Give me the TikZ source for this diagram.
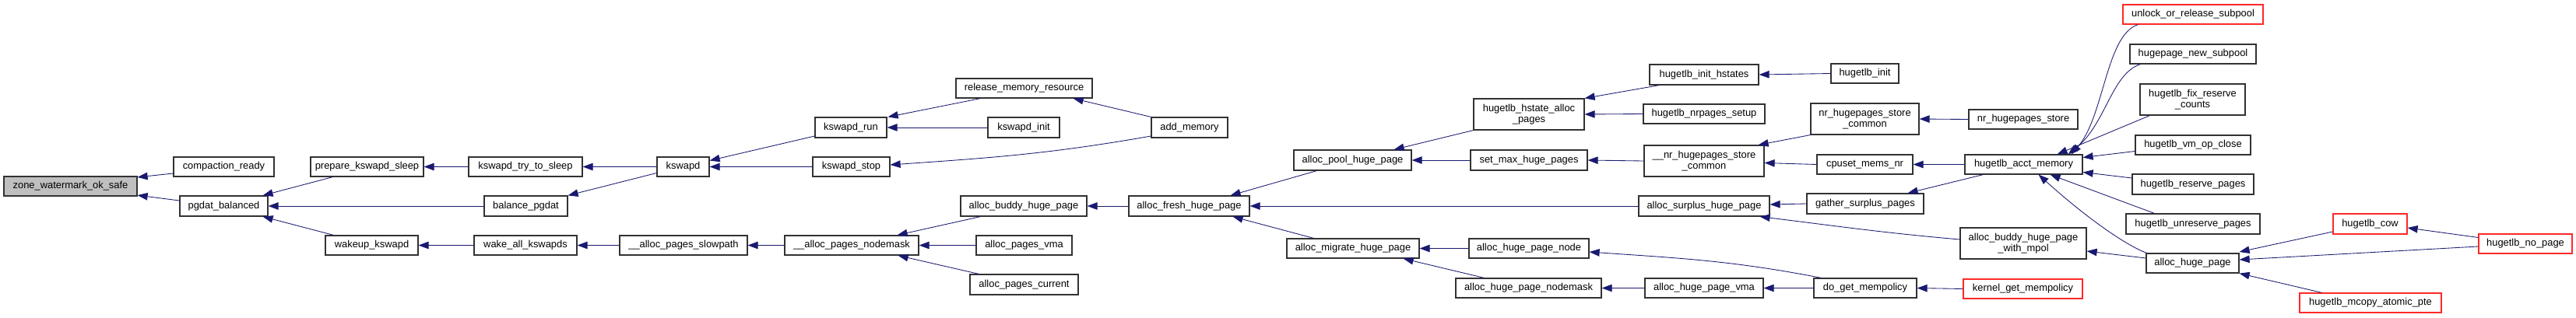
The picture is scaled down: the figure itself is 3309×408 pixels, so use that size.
\documentclass[tikz,border=0pt]{standalone}
\usepackage{fontspec}
\setmainfont{Liberation Sans}
\usetikzlibrary{arrows.meta}
\definecolor{edgec}{RGB}{25,25,112}
\definecolor{rootfill}{RGB}{191,191,191}
\definecolor{boxc}{RGB}{50,50,50}
\definecolor{redc}{RGB}{255,40,40}
\tikzset{
  fn/.style={draw=boxc, line width=1.2pt, fill=white, inner sep=0pt, minimum height=25pt,
    font=\fontsize{12.9}{14.5}\selectfont, align=center},
  rfn/.style={fn, draw=redc},
  rootfn/.style={fn, fill=rootfill},
  edge/.style={draw=edgec, line width=0.85pt, -{Triangle[length=13pt,width=9.5pt]}},
}
\begin{document}
\begin{tikzpicture}[x=1pt,y=-1pt]
\useasboundingbox (0,0) rectangle (3309,408);
% nodes
\node[rootfn, minimum width=171pt] (zone) at (90.5,239.5) {zone\_watermark\_ok\_safe};
\node[fn, minimum width=129pt] (comp) at (287.5,214.5) {compaction\_ready};
\node[fn, minimum width=113pt, minimum height=26pt] (pgdat) at (287.5,265) {pgdat\_balanced};
\node[fn, minimum width=145pt] (prep) at (471.5,214.5) {prepare\_kswapd\_sleep};
\node[fn, minimum width=107pt, minimum height=26pt] (bal) at (675.5,265) {balance\_pgdat};
\node[fn, minimum width=119pt] (wake) at (477.5,315.5) {wakeup\_kswapd};
\node[fn, minimum width=146pt] (trysleep) at (675,214.5) {kswapd\_try\_to\_sleep};
\node[fn, minimum width=132pt] (wakeall) at (675,315.5) {wake\_all\_kswapds};
\node[fn, minimum width=67pt] (kswapd) at (877.5,214.5) {kswapd};
\node[fn, minimum width=164pt] (slow) at (878,315.5) {\_\_alloc\_pages\_slowpath};
\node[fn, minimum width=92pt, minimum height=26pt] (run) at (1093,164) {kswapd\_run};
\node[fn, minimum width=99pt] (stop) at (1093.5,214.5) {kswapd\_stop};
\node[fn, minimum width=172pt] (nodemask) at (1094,315.5) {\_\_alloc\_pages\_nodemask};
\node[fn, minimum width=175pt] (release) at (1315.5,113.5) {release\_memory\_resource};
\node[fn, minimum width=92pt, minimum height=26pt] (init) at (1315,164) {kswapd\_init};
\node[fn, minimum width=162pt, minimum height=26pt] (buddy) at (1315,265) {alloc\_buddy\_huge\_page};
\node[fn, minimum width=123pt] (vma) at (1315.5,315.5) {alloc\_pages\_vma};
\node[fn, minimum width=139pt, minimum height=26pt] (current) at (1315.5,366) {alloc\_pages\_current};
\node[fn, minimum width=98pt, minimum height=26pt] (addmem) at (1528,164) {add\_memory};
\node[fn, minimum width=155pt, minimum height=26pt] (fresh) at (1527.5,265) {alloc\_fresh\_huge\_page};
\node[fn, minimum width=151pt, minimum height=26pt] (pool) at (1737.5,206) {alloc\_pool\_huge\_page};
\node[fn, minimum width=170pt] (migrate) at (1738,319.5) {alloc\_migrate\_huge\_page};
\node[fn, minimum width=142pt, minimum height=40pt] (hstate) at (1964,147) {hugetlb\_hstate\_alloc\\\_pages};
\node[fn, minimum width=150pt, minimum height=26pt] (setmax) at (1964,206) {set\_max\_huge\_pages};
\node[fn, minimum width=154pt] (hpnode) at (1964,319.5) {alloc\_huge\_page\_node};
\node[fn, minimum width=187pt] (hpnodemask) at (1963.5,370.5) {alloc\_huge\_page\_nodemask};
\node[fn, minimum width=140pt, minimum height=26pt] (inithstates) at (2189,96) {hugetlb\_init\_hstates};
\node[fn, minimum width=156pt] (nrsetup) at (2189,146.5) {hugetlb\_nrpages\_setup};
\node[fn, minimum width=154pt, minimum height=40pt] (nrsc) at (2189,207) {\_\_nr\_hugepages\_store\\\_common};
\node[fn, minimum width=168pt, minimum height=26pt] (surplus) at (2189,265) {alloc\_surplus\_huge\_page};
\node[fn, minimum width=152pt] (hpvma) at (2189,370.5) {alloc\_huge\_page\_vma};
\node[fn, minimum width=87pt] (hinit) at (2395.5,94.5) {hugetlb\_init};
\node[fn, minimum width=139pt, minimum height=40pt] (nrstorecommon) at (2395.5,153) {nr\_hugepages\_store\\\_common};
\node[fn, minimum width=123pt] (cpuset) at (2395.5,211.5) {cpuset\_mems\_nr};
\node[fn, minimum width=150pt, minimum height=26pt] (gather) at (2396,262) {gather\_surplus\_pages};
\node[fn, minimum width=132pt] (dogetmp) at (2396,370.5) {do\_get\_mempolicy};
\node[fn, minimum width=140pt] (nrstore) at (2599,153.5) {nr\_hugepages\_store};
\node[fn, minimum width=151pt] (acct) at (2599.5,211.5) {hugetlb\_acct\_memory};
\node[fn, minimum width=162pt, minimum height=40pt] (mpol) at (2599,313) {alloc\_buddy\_huge\_page\\\_with\_mpol};
\node[rfn, minimum width=153pt] (kgm) at (2598.5,371.5) {kernel\_get\_mempolicy};
\node[rfn, minimum width=180pt] (unlock) at (2817,18.5) {unlock\_or\_release\_subpool};
\node[fn, minimum width=162pt] (newsub) at (2817,69.5) {hugepage\_new\_subpool};
\node[fn, minimum width=135pt, minimum height=40pt] (fixres) at (2816.5,128) {hugetlb\_fix\_reserve\\\_counts};
\node[fn, minimum width=148pt] (vmclose) at (2817,186.5) {hugetlb\_vm\_op\_close};
\node[fn, minimum width=156pt, minimum height=26pt] (reserve) at (2817,237) {hugetlb\_reserve\_pages};
\node[fn, minimum width=172pt, minimum height=26pt] (unreserve) at (2817,288) {hugetlb\_unreserve\_pages};
\node[fn, minimum width=119pt] (allochuge) at (2816.5,338.5) {alloc\_huge\_page};
\node[rfn, minimum width=95pt, minimum height=26pt] (cow) at (3044.5,288) {hugetlb\_cow};
\node[rfn, minimum width=182pt] (mcopy) at (3045,389.5) {hugetlb\_mcopy\_atomic\_pte};
\node[rfn, minimum width=120pt] (nopage) at (3244,313.5) {hugetlb\_no\_page};
% edges
\draw[edge] ([yshift=-8.5pt]comp.west) -- ([yshift=-1.5pt]zone.north east);
\draw[edge] ([yshift=7pt]pgdat.west) -- ([yshift=1.5pt]zone.south east);
\draw[edge] ([xshift=29pt]prep.south west) -- ([xshift=-7pt]pgdat.north east);
\draw[edge] (bal.west) -- (pgdat.east);
\draw[edge] ([xshift=11pt]wake.north west) -- ([xshift=-7pt]pgdat.south east);
\draw[edge] (trysleep.west) -- (prep.east);
\draw[edge] (kswapd.west) -- (trysleep.east);
\draw[edge] ([yshift=-8pt]kswapd.west) -- (bal.north east);
\draw[edge] (wakeall.west) -- (wake.east);
\draw[edge] (slow.west) -- (wakeall.east);
\draw[edge] (nodemask.west) -- (slow.east);
\draw[edge] ([yshift=-11pt]run.west) -- ([yshift=8pt]kswapd.east);
\draw[edge] (stop.west) -- (kswapd.east);
\draw[edge] ([xshift=32pt]release.south west) -- ([xshift=1pt]run.north east);
\draw[edge] (init.west) -- (run.east);
\draw[edge] ([yshift=-11pt]addmem.west) to[out=190,in=4] ([yshift=2.5pt]stop.east);
\draw[edge] (addmem.north west) -- ([xshift=-25pt]release.south east);
\draw[edge] ([xshift=26pt]buddy.south west) -- ([xshift=-28pt]nodemask.north east);
\draw[edge] (vma.west) -- (nodemask.east);
\draw[edge] ([xshift=12pt]current.north west) -- ([xshift=-27pt]nodemask.south east);
\draw[edge] (fresh.west) -- (buddy.east);
\draw[edge] ([xshift=30pt]pool.south west) -- ([xshift=-25pt]fresh.north east);
\draw[edge] (surplus.west) -- (fresh.east);
\draw[edge] ([xshift=35pt]migrate.north west) -- ([xshift=-22pt]fresh.south east);
\draw[edge] (hstate.south west) -- ([xshift=-23pt]pool.north east);
\draw[edge] (setmax.west) -- (pool.east);
\draw[edge] ([xshift=13pt]inithstates.south west) -- (hstate.north east);
\draw[edge] (nrsetup.west) -- (hstate.east);
\draw[edge] (hinit.west) -- (inithstates.east);
\draw[edge] (nrsc.west) -- (setmax.east);
\draw[edge] (nrstorecommon.south west) -- ([xshift=-8pt]nrsc.north east);
\draw[edge] (cpuset.west) -- ([yshift=-2.5pt]nrsc.east);
\draw[edge] (nrstore.west) -- (nrstorecommon.east);
\draw[edge] (acct.west) -- (cpuset.east);
\draw[edge] ([xshift=24pt]acct.south west) -- ([xshift=-21pt]gather.north east);
\draw[edge] (gather.west) -- ([yshift=2pt]surplus.east);
\draw[edge] ([yshift=5pt]mpol.west) to[out=175,in=-7] ([xshift=-13pt]surplus.south east);
\draw[edge] ([xshift=10pt]dogetmp.north west) to[out=169,in=-4] ([yshift=-4.5pt]hpnode.east);
\draw[edge] ([xshift=37pt]hpnodemask.north west) -- ([xshift=-21pt]migrate.south east);
\draw[edge] (hpnode.west) -- (migrate.east);
\draw[edge] (hpvma.west) -- (hpnodemask.east);
\draw[edge] (dogetmp.west) -- (hpvma.east);
\draw[edge] (kgm.west) -- (dogetmp.east);
\draw[edge] ([xshift=20pt]unlock.south west) .. controls (2705,45) and (2703,150) .. ([xshift=-15pt]acct.north east);
\draw[edge] ([xshift=14pt]newsub.south west) .. controls (2712,95) and (2705,160) .. ([xshift=-19pt]acct.north east);
\draw[edge] ([xshift=13pt]fixres.south west) -- ([xshift=-33pt]acct.north east);
\draw[edge] ([yshift=-8pt]vmclose.west) -- ([yshift=9pt]acct.east);
\draw[edge] ([yshift=8pt]reserve.west) -- ([yshift=-10pt]acct.east);
\draw[edge] ([xshift=37pt]unreserve.north west) -- ([xshift=-42pt]acct.south east);
\draw[edge] ([xshift=1pt]allochuge.north west) .. controls (2730,315) and (2680,280) .. ([xshift=-57pt]acct.south east);
\draw[edge] ([yshift=6.5pt]allochuge.west) -- ([yshift=-10pt]mpol.east);
\draw[edge] ([yshift=-10pt]cow.west) -- ([yshift=14.5pt]allochuge.east);
\draw[edge] ([yshift=-3.5pt]nopage.west) -- ([yshift=4.5pt]allochuge.east);
\draw[edge] ([xshift=29pt]mcopy.north west) -- (allochuge.south east);
\draw[edge] ([yshift=8pt]nopage.west) -- ([yshift=-5pt]cow.east);
\end{tikzpicture}
\end{document}
